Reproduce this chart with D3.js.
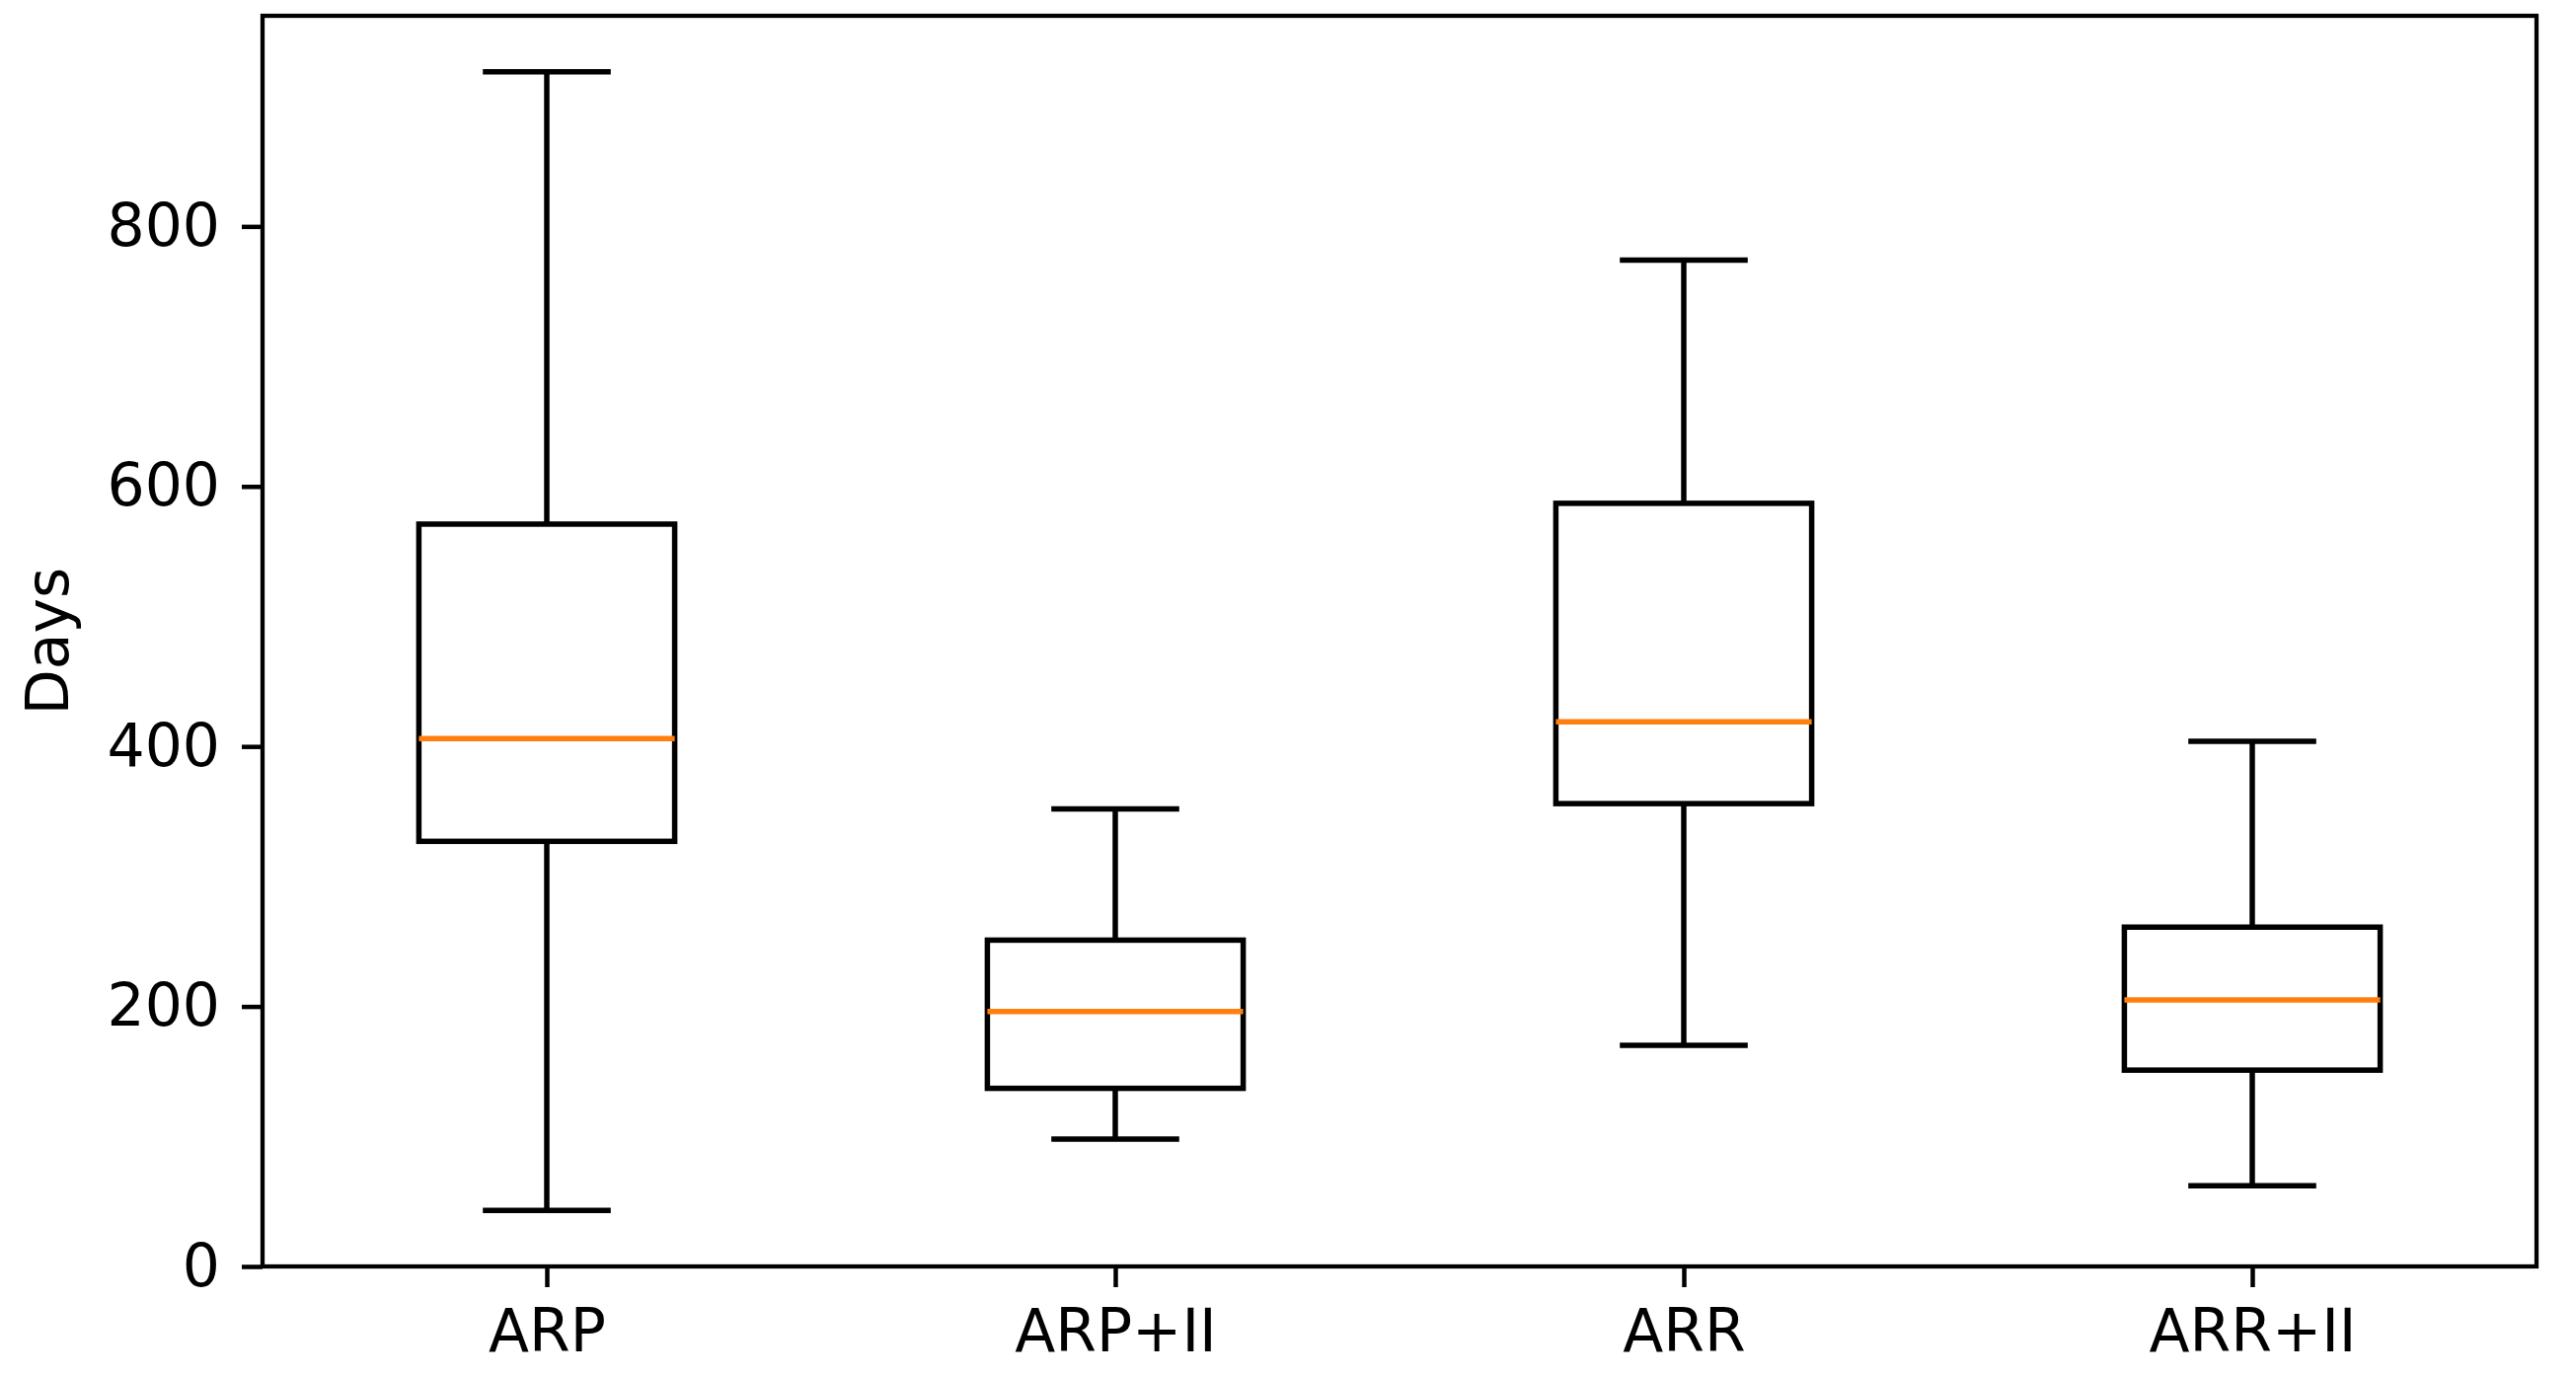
<!DOCTYPE html>
<html>
<head>
<meta charset="utf-8">
<script src="https://cdn.jsdelivr.net/npm/d3@7"></script>
<style>
    body { margin: 0; background: #fff; }
    text { font-family: "DejaVu Sans", sans-serif; fill: #000; }
</style>
</head>
<body>
<div id="chart"></div>
<script>
// Box plot stats
var categories = ["ARP", "ARP+II", "ARR", "ARR+II"];
var whiskerLow = [43, 98, 170, 62];
var q1 = [327, 137, 356, 151];
var medians = [406, 196, 419, 205];
var q3 = [571, 251, 587, 261];
var whiskerHigh = [919, 352, 774, 404];
var yTicks = [0, 200, 400, 600, 800];

// Set up the svg params
var svgWidth = 2610;
var svgHeight = 1395;

var margin = {
    top: 16,
    right: 40,
    bottom: 112,
    left: 266
};

var width = svgWidth - margin.left - margin.right;
var height = svgHeight - margin.top - margin.bottom;

var svg = d3.select("#chart").append("svg")
    .attr("width", svgWidth)
    .attr("height", svgHeight);

var chartGroup = svg.append("g")
    .attr("transform", `translate(${margin.left}, ${margin.top})`);

// boxes sit at positions 1..n, like matplotlib
var positions = categories.map((c, i) => i + 1);

var xScale = d3.scaleLinear()
    .domain([0.5, categories.length + 0.5])
    .range([0, width]);

var yScale = d3.scaleLinear()
    .domain([0, 962])
    .range([height, 0]);

var boxWidth = 0.45;
var capWidth = boxWidth / 2;
var lineWidth = 5.5;

var boxData = categories.map((c, i) => ({
    name: c,
    pos: positions[i],
    low: whiskerLow[i],
    q1: q1[i],
    med: medians[i],
    q3: q3[i],
    high: whiskerHigh[i]
}));

var boxes = chartGroup.selectAll(".box")
    .data(boxData)
    .enter()
    .append("g")
    .classed("box", true);

// whiskers
boxes.append("line")
    .attr("x1", d => xScale(d.pos))
    .attr("x2", d => xScale(d.pos))
    .attr("y1", d => yScale(d.q3))
    .attr("y2", d => yScale(d.high));

boxes.append("line")
    .attr("x1", d => xScale(d.pos))
    .attr("x2", d => xScale(d.pos))
    .attr("y1", d => yScale(d.q1))
    .attr("y2", d => yScale(d.low));

// caps
boxes.append("line")
    .attr("x1", d => xScale(d.pos - capWidth / 2))
    .attr("x2", d => xScale(d.pos + capWidth / 2))
    .attr("y1", d => yScale(d.high))
    .attr("y2", d => yScale(d.high));

boxes.append("line")
    .attr("x1", d => xScale(d.pos - capWidth / 2))
    .attr("x2", d => xScale(d.pos + capWidth / 2))
    .attr("y1", d => yScale(d.low))
    .attr("y2", d => yScale(d.low));

boxes.selectAll("line")
    .attr("stroke", "#000")
    .attr("stroke-width", lineWidth);

// the box itself
boxes.append("rect")
    .attr("x", d => xScale(d.pos - boxWidth / 2))
    .attr("width", d => xScale(d.pos + boxWidth / 2) - xScale(d.pos - boxWidth / 2))
    .attr("y", d => yScale(d.q3))
    .attr("height", d => yScale(d.q1) - yScale(d.q3))
    .attr("fill", "none")
    .attr("stroke", "#000")
    .attr("stroke-width", lineWidth);

// median
boxes.append("line")
    .attr("x1", d => xScale(d.pos - boxWidth / 2))
    .attr("x2", d => xScale(d.pos + boxWidth / 2))
    .attr("y1", d => yScale(d.med))
    .attr("y2", d => yScale(d.med))
    .attr("stroke", "#ff7f0e")
    .attr("stroke-width", lineWidth);

// Create Axes
var leftAxis = d3.axisLeft(yScale)
    .tickValues(yTicks)
    .tickSize(21)
    .tickPadding(22);

var bottomAxis = d3.axisBottom(xScale)
    .tickValues(positions)
    .tickFormat((d, i) => categories[i])
    .tickSize(21)
    .tickPadding(22);

var yAxis = chartGroup.append("g")
    .call(leftAxis);

var xAxis = chartGroup.append("g")
    .attr("transform", `translate(0, ${height})`)
    .call(bottomAxis);

[xAxis, yAxis].forEach(a => {
    a.select(".domain").remove();
    a.selectAll(".tick line")
        .attr("stroke", "#000")
        .attr("stroke-width", 4.5);
    a.selectAll(".tick text")
        .style("font-size", "60px")
        .style("font-family", "DejaVu Sans");
});

// frame around the plot area
chartGroup.append("rect")
    .attr("x", 0)
    .attr("y", 0)
    .attr("width", width)
    .attr("height", height)
    .attr("fill", "none")
    .attr("stroke", "#000")
    .attr("stroke-width", 4.3);

// y axis label
chartGroup.append("text")
    .attr("transform", "rotate(-90)")
    .attr("x", 0 - (height / 2))
    .attr("y", 69 - margin.left)
    .attr("text-anchor", "middle")
    .style("font-size", "60px")
    .text("Days");
</script>
</body>
</html>
